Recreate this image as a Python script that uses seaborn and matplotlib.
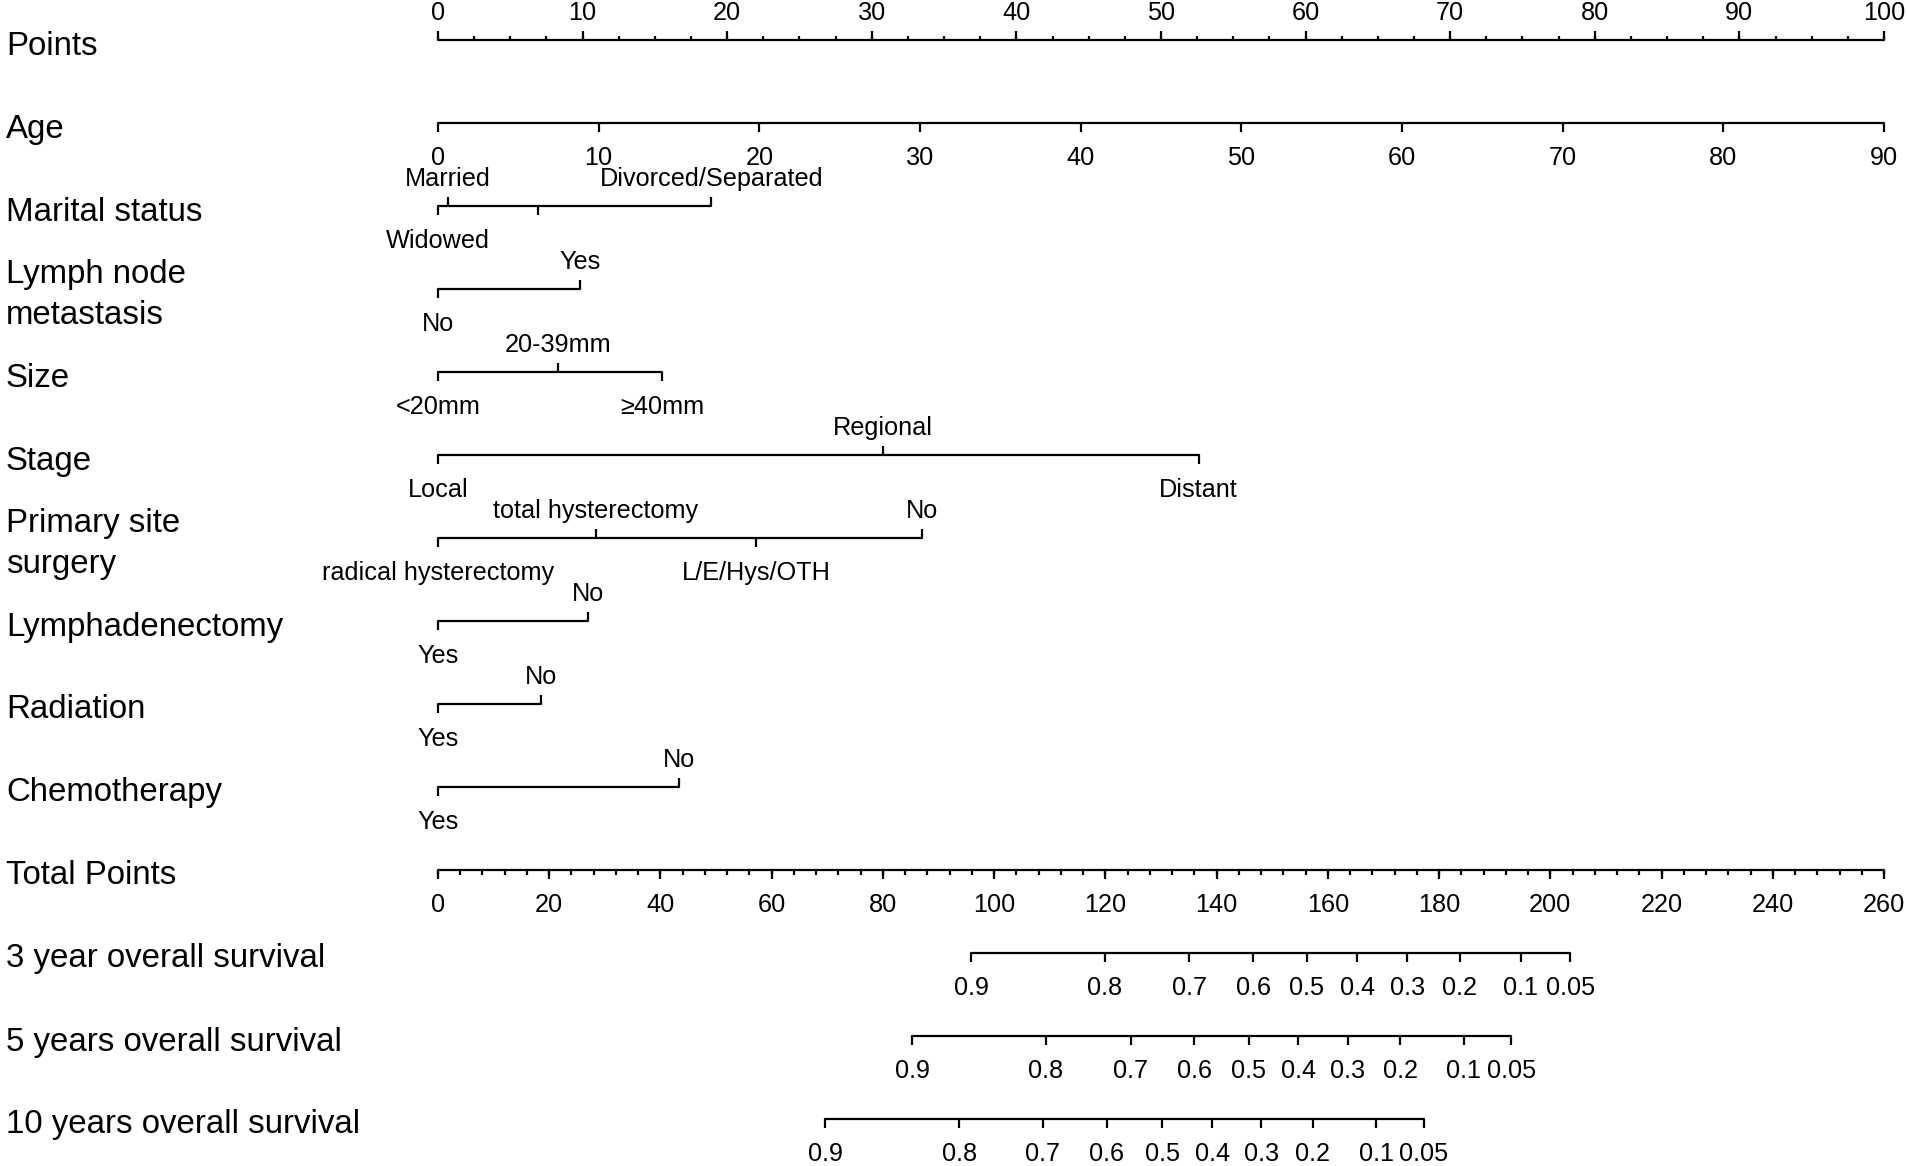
import numpy as np
import pandas as pd
import matplotlib.pyplot as plt
import seaborn as sns
from matplotlib.transforms import blended_transform_factory

sns.set_theme(style="white")
plt.rcParams['font.family'] = ['Liberation Sans', 'DejaVu Sans']

# ---- values ----
points_max = 100
total_max = 260

age_values = [0, 10, 20, 30, 40, 50, 60, 70, 80, 90]
age_max = 90

marital_labels = ["Widowed", "Married", "", "Divorced/Separated"]
marital_points = [0, 0.7, 6.9, 18.9]

lymph_labels = ["No", "Yes"]
lymph_points = [0, 9.8]

size_labels = ["<20mm", "20-39mm", "\u226540mm"]
size_points = [0, 8.3, 15.5]

stage_labels = ["Local", "Regional", "Distant"]
stage_points = [0, 30.8, 52.6]

surgery_labels = ["radical hysterectomy", "total hysterectomy", "L/E/Hys/OTH", "No"]
surgery_points = [0, 10.9, 22.0, 33.5]

lymphadenectomy_labels = ["Yes", "No"]
lymphadenectomy_points = [0, 10.4]

radiation_labels = ["Yes", "No"]
radiation_points = [0, 7.1]

chemo_labels = ["Yes", "No"]
chemo_points = [0, 16.7]

surv_probs = [0.9, 0.8, 0.7, 0.6, 0.5, 0.4, 0.3, 0.2, 0.1, 0.05]
surv3_total = [95.9, 119.9, 135.1, 146.6, 156.2, 165.3, 174.3, 183.7, 194.7, 203.6]
surv5_total = [85.3, 109.3, 124.6, 136.0, 145.8, 154.7, 163.6, 173.0, 184.4, 193.0]
surv10_total = [69.6, 93.7, 108.7, 120.3, 130.2, 139.2, 148.0, 157.3, 168.7, 177.3]

row_names = ["Points", "Age", "Marital status", "Lymph node\nmetastasis", "Size",
             "Stage", "Primary site\nsurgery", "Lymphadenectomy", "Radiation",
             "Chemotherapy", "Total Points", "3 year overall survival",
             "5 years overall survival", "10 years overall survival"]

categorical = [
    (2, marital_labels, marital_points),
    (3, lymph_labels, lymph_points),
    (4, size_labels, size_points),
    (5, stage_labels, stage_points),
    (6, surgery_labels, surgery_points),
    (7, lymphadenectomy_labels, lymphadenectomy_points),
    (8, radiation_labels, radiation_points),
    (9, chemo_labels, chemo_points),
]
survival = [(11, surv3_total), (12, surv5_total), (13, surv10_total)]

# ---- layout ----
W, H = 1908, 1166
top_px, bottom_px = 40.0, 1119.0
row_px = (bottom_px - top_px) / 13
tick_major = 9 / row_px
tick_minor = 4.5 / row_px
lab_fs = 23.8
tick_fs = 18.2
up_off, down_off = 19.4, -25.5
lw = 1.6

fig = plt.figure(figsize=(W / 100, H / 100), dpi=100)
ax = fig.add_axes([438 / W, 0, (1884 - 438) / W, 1])

to_pts = points_max / total_max
age_pts = [a * points_max / age_max for a in age_values]

# horizontal scale lines
segs = [(0, 0, points_max), (1, 0, points_max), (10, 0, points_max)]
for i, _, pts in categorical:
    segs.append((i, min(pts), max(pts)))
for i, tot in survival:
    segs.append((i, min(tot) * to_pts, max(tot) * to_pts))
seg_df = pd.DataFrame(
    [{"seg": k, "x": x, "y": i} for k, (i, a, b) in enumerate(segs) for x in (a, b)]
)
sns.lineplot(data=seg_df, x="x", y="y", units="seg", estimator=None,
             color="black", linewidth=lw, ax=ax, legend=False)
for ln in ax.lines:
    ln.set_clip_on(False)


def ticks(xs, i, side, length):
    y2 = i - length if side == "up" else i + length
    ax.vlines(xs, i, y2, color="black", linewidth=lw, clip_on=False)


def label(x, i, text, side):
    off = up_off if side == "up" else down_off
    ax.annotate(text, (x, i), xytext=(0, off), textcoords="offset points",
                ha="center", va="center", fontsize=tick_fs, color="black",
                annotation_clip=False)


# Points axis
pt_major = np.arange(0, points_max + 1, 10)
pt_minor = np.arange(0, points_max + 0.1, 2.5)
ticks(pt_minor, 0, "up", tick_minor)
ticks(pt_major, 0, "up", tick_major)
for v in pt_major:
    label(v, 0, f"{v:g}", "up")

# Age
ticks(age_pts, 1, "down", tick_major)
for v, p in zip(age_values, age_pts):
    label(p, 1, str(v), "down")

# categorical rows: labels alternate below/above in order of points
for i, labs, pts in categorical:
    order = np.argsort(pts)
    for rank, k in enumerate(order):
        side = "down" if rank % 2 == 0 else "up"
        ticks([pts[k]], i, side, tick_major)
        if labs[k]:
            label(pts[k], i, labs[k], side)

# Total points
tp_major = np.arange(0, total_max + 1, 20)
tp_minor = np.arange(0, total_max + 1, 4)
ticks(tp_minor * to_pts, 10, "down", tick_minor)
ticks(tp_major * to_pts, 10, "down", tick_major)
for v in tp_major:
    label(v * to_pts, 10, f"{v:g}", "down")

# survival scales
for i, tot in survival:
    xs = [t * to_pts for t in tot]
    ticks(xs, i, "down", tick_major)
    for p, x in zip(surv_probs, xs):
        label(x, i, f"{p:g}", "down")

# row names
tr = blended_transform_factory(fig.transFigure, ax.transData)
for i, name in enumerate(row_names):
    ax.text(6 / W, i + 6 / row_px, name, transform=tr, ha="left", va="center",
            fontsize=lab_fs, color="black", linespacing=1.45)

ax.set_xlim(0, points_max)
ax.set_ylim((H - top_px) / row_px, -top_px / row_px)
ax.axis("off")

fig.savefig("out.png", dpi=100)
